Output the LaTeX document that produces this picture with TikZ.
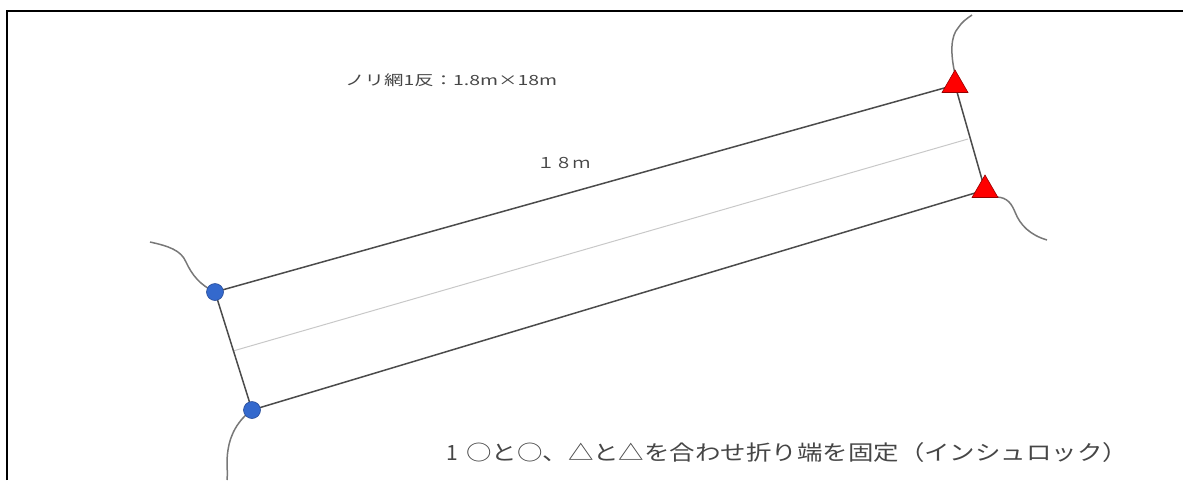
\documentclass[tikz,border=0pt]{standalone}
\usepackage{fontspec}
\usepackage{graphicx}
\newfontfamily\jp{Noto Sans CJK JP}
\usetikzlibrary{shapes.geometric}
\definecolor{txtgray}{RGB}{70,70,70}
\definecolor{linegray}{RGB}{75,75,75}
\definecolor{stringgray}{RGB}{120,120,120}
\definecolor{midgray}{RGB}{200,200,200}
\definecolor{dotblue}{RGB}{52,105,205}
\definecolor{dotblueedge}{RGB}{40,75,150}
\definecolor{triedge}{RGB}{150,0,0}
\tikzset{
  frame/.style={line width=2.8pt,black},
  netline/.style={line width=1.5pt,linegray},
  midline/.style={line width=1pt,midgray},
  string/.style={line width=1.5pt,stringgray},
  bluedot/.style={circle,fill=dotblue,draw=dotblueedge,line width=0.6pt,minimum size=17pt,inner sep=0pt},
  redtri/.style={regular polygon,regular polygon sides=3,fill=red,draw=triedge,line width=0.6pt,minimum size=30pt,inner sep=0pt},
  lbl/.style={text=txtgray,inner sep=0pt,font=\jp}
}
\begin{document}
\begin{tikzpicture}[x=1pt,y=-1pt]
\useasboundingbox (0,0) rectangle (1183,480);
% frame (top and left edges)
\coordinate (f1) at (7,480);
\coordinate (f2) at (7,11);
\coordinate (f3) at (1183,11);
\draw[frame] (f1) -- (f2) -- (f3);
% corner points
\coordinate (a) at (215,292);
\coordinate (b) at (252,410);
\coordinate (c) at (955,85);
\coordinate (d) at (985,190);
\coordinate (m1) at (233,351);
\coordinate (m2) at (968,139);
% free string ends
\coordinate (sa) at (150,242);
\coordinate (sb) at (227,480);
\coordinate (sc) at (972,15);
\coordinate (sd) at (1047,240);
% net lines
\draw[midline] (m1) -- (m2);
\draw[netline] (a) -- (c);
\draw[netline] (b) -- (d);
\draw[netline] (a) -- (b);
\draw[netline] (c) -- (d);
% strings
\draw[string] (a) .. controls (200,285) and (192,275) .. (186,262) .. controls (181,250) and (168,246) .. (sa);
\draw[string] (b) .. controls (238,420) and (230,435) .. (228,450) .. controls (226,462) and (228,470) .. (sb);
\draw[string] (955,74) .. controls (950,52) and (951,36) .. (958,28) .. controls (962,22) and (966,19) .. (sc);
\draw[string] (996,197) .. controls (1008,197) and (1012,205) .. (1015,212) .. controls (1020,225) and (1030,235) .. (sd);
% markers
\node[bluedot] (A) at (a) {};
\node[bluedot] (B) at (b) {};
\node[redtri] (C) at (c) {};
\node[redtri] (D) at (d) {};
% labels
\node[lbl,anchor=west] (t1) at (345,80) {\resizebox{212pt}{\height}{\fontsize{14pt}{16pt}\selectfont ノリ網1反：1.8m×18m}};
\node[lbl,anchor=west] (t2) at (537,163) {\resizebox{53pt}{\height}{\fontsize{15pt}{17pt}\selectfont １８ｍ}};
\node[lbl,anchor=west] (t3) at (446,453) {\fontsize{21pt}{24pt}\selectfont 1};
\node[lbl,anchor=west] (t4) at (466,453) {\resizebox{662pt}{\height}{\fontsize{21pt}{24pt}\selectfont ○と○、△と△を合わせ折り端を固定（インシュロック）}};
\end{tikzpicture}
\end{document}
